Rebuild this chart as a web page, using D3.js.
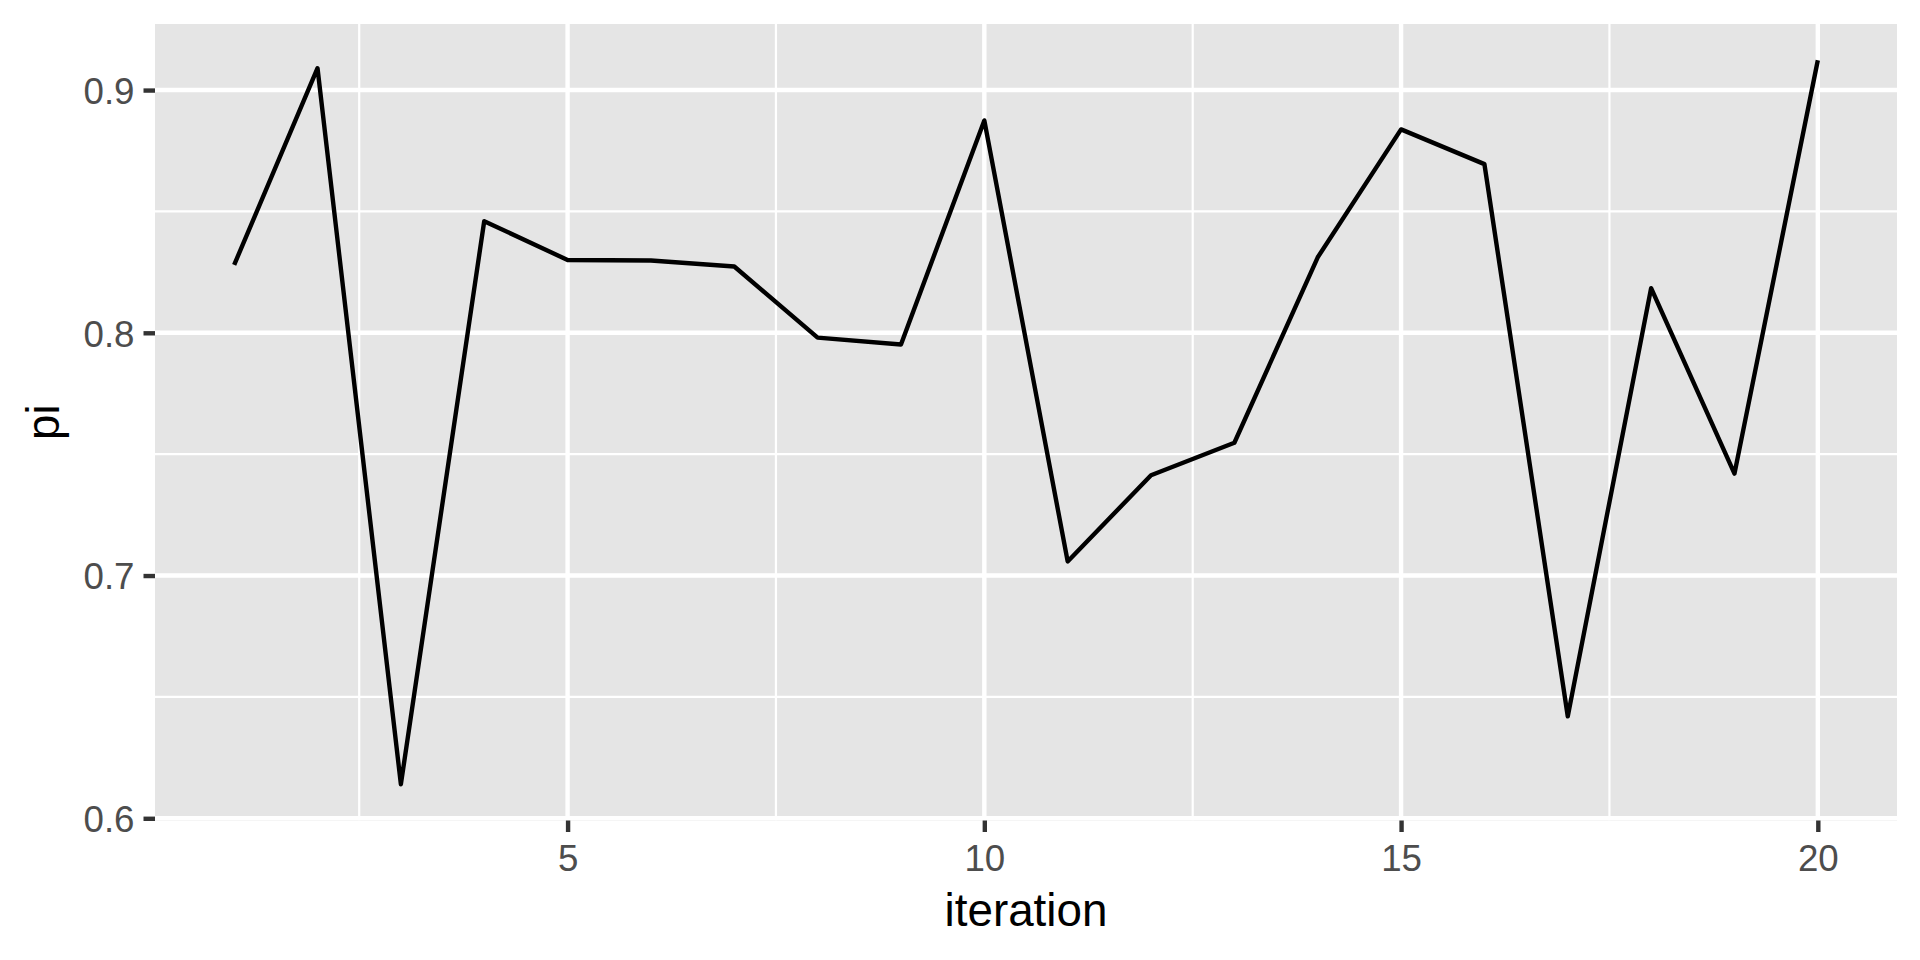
<!DOCTYPE html>
<html>
<head>
<meta charset="utf-8">
<script src="https://cdn.jsdelivr.net/npm/d3@7"></script>
<style>
  html, body { margin: 0; padding: 0; background: #ffffff; }
  svg { display: block; }
  text { font-family: "Liberation Sans", Arial, Helvetica, sans-serif; }
</style>
</head>
<body>
<svg id="chart" width="1920" height="960"></svg>
<script>
// ---- data ----
const iteration = [1, 2, 3, 4, 5, 6, 7, 8, 9, 10, 11, 12, 13, 14, 15, 16, 17, 18, 19, 20];
const pi = [0.828, 0.909, 0.614, 0.846, 0.830, 0.8298, 0.8273, 0.798, 0.7952, 0.8875,
            0.7058, 0.7413, 0.7547, 0.8311, 0.8838, 0.8695, 0.642, 0.8184, 0.742, 0.9123];
const xTicks = [5, 10, 15, 20];
const xMinor = [2.5, 7.5, 12.5, 17.5];
const yTicks = [0.6, 0.7, 0.8, 0.9];
const yMinor = [0.65, 0.75, 0.85];
const xTitle = "iteration";
const yTitle = "pi";

// ---- layout ----
const panel = { left: 155, right: 1897, top: 24, bottom: 820.5 };

const xExt = d3.extent(iteration);
const xPad = (xExt[1] - xExt[0]) * 0.05;
const yExt = d3.extent(pi);
const yPad = (yExt[1] - yExt[0]) * 0.05;

const x = d3.scaleLinear().domain([xExt[0] - xPad, xExt[1] + xPad]).range([panel.left, panel.right]);
const y = d3.scaleLinear().domain([yExt[0] - yPad, yExt[1] + yPad]).range([panel.bottom, panel.top]);

const svg = d3.select("#chart");

// panel background
svg.append("rect")
  .attr("x", panel.left).attr("y", panel.top)
  .attr("width", panel.right - panel.left).attr("height", panel.bottom - panel.top)
  .attr("fill", "#e5e5e5");

const grid = svg.append("g");
// minor grid
grid.selectAll("line.ymin").data(yMinor).join("line")
  .attr("x1", panel.left).attr("x2", panel.right)
  .attr("y1", d => y(d)).attr("y2", d => y(d))
  .attr("stroke", "#ffffff").attr("stroke-width", 2.2);
grid.selectAll("line.xmin").data(xMinor).join("line")
  .attr("y1", panel.top).attr("y2", panel.bottom)
  .attr("x1", d => x(d)).attr("x2", d => x(d))
  .attr("stroke", "#ffffff").attr("stroke-width", 2.2);
// major grid
grid.selectAll("line.ymaj").data(yTicks).join("line")
  .attr("x1", panel.left).attr("x2", panel.right)
  .attr("y1", d => y(d)).attr("y2", d => y(d))
  .attr("stroke", "#ffffff").attr("stroke-width", 4.4);
grid.selectAll("line.xmaj").data(xTicks).join("line")
  .attr("y1", panel.top).attr("y2", panel.bottom)
  .attr("x1", d => x(d)).attr("x2", d => x(d))
  .attr("stroke", "#ffffff").attr("stroke-width", 4.4);

// clip grid to panel
svg.append("clipPath").attr("id", "pclip").append("rect")
  .attr("x", panel.left).attr("y", panel.top)
  .attr("width", panel.right - panel.left).attr("height", panel.bottom - panel.top);
grid.attr("clip-path", "url(#pclip)");

// data line
const line = d3.line().x((d, i) => x(iteration[i])).y(d => y(d));
svg.append("path")
  .datum(pi)
  .attr("d", line)
  .attr("fill", "none")
  .attr("stroke", "#000000")
  .attr("stroke-width", 4.4)
  .attr("stroke-linejoin", "round")
  .attr("stroke-linecap", "butt");

// axes
const xAxis = d3.axisBottom(x).tickValues(xTicks).tickSize(11.5).tickPadding(13).tickFormat(d3.format("d"));
const yAxis = d3.axisLeft(y).tickValues(yTicks).tickSize(11.5).tickPadding(9).tickFormat(d3.format(".1f"));

const gx = svg.append("g").attr("transform", `translate(0,${panel.bottom})`).call(xAxis);
const gy = svg.append("g").attr("transform", `translate(${panel.left},0)`).call(yAxis);

[gx, gy].forEach(g => {
  g.select(".domain").remove();
  g.selectAll(".tick line").attr("stroke", "#333333").attr("stroke-width", 4.4);
  g.selectAll(".tick text")
    .attr("fill", "#4d4d4d")
    .style("font-size", "36.7px")
    .style("font-family", "'Liberation Sans', Arial, sans-serif");
});
gy.selectAll(".tick text").attr("dy", "0.36em");
gx.selectAll(".tick text").attr("dy", "0.71em");

// axis titles
svg.append("text")
  .attr("x", (panel.left + panel.right) / 2)
  .attr("y", 926)
  .attr("text-anchor", "middle")
  .attr("fill", "#000000")
  .style("font-size", "45.8px")
  .text(xTitle);

svg.append("text")
  .attr("transform", `translate(58.5,${(panel.top + panel.bottom) / 2}) rotate(-90)`)
  .attr("text-anchor", "middle")
  .attr("fill", "#000000")
  .style("font-size", "45.8px")
  .text(yTitle);
</script>
</body>
</html>
